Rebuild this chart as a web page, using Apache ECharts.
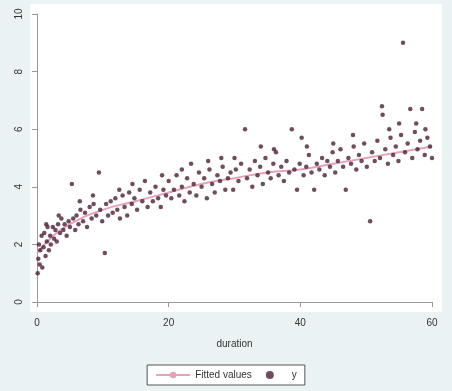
<!DOCTYPE html>
<html><head><meta charset="utf-8">
<script src="https://cdn.jsdelivr.net/npm/echarts@6/dist/echarts.min.js"></script>
<style>html,body{margin:0;padding:0;background:#eaf2f3}#c{width:452px;height:391px}</style>
</head><body><div id="c"></div>
<script>
const xTicks = [0, 20, 40, 60];
const yTicks = [0, 2, 4, 6, 8, 10];
const xTitle = 'duration';
const fitLabel = 'Fitted values';
const scatterLabel = 'y';

const xVals = [0.1,0.2,0.3,0.4,0.5,0.7,0.8,1.0,1.1,1.3,1.5,1.6,1.8,2.0,2.1,2.4,2.6,2.8,3.0,3.2,3.5,3.7,4.0,4.2,4.5,4.8,5.0,5.3,5.5,5.8,6.0,6.3,6.6,7.0,7.3,7.6,8.0,8.3,8.6,9.0,9.4,9.6,9.9,10.3,10.5,10.8,11.2,11.5,11.9,12.2,12.6,13.0,13.3,13.7,14.0,14.4,14.8,15.2,15.6,16.0,16.4,16.8,17.2,17.6,18.0,18.4,18.8,19.2,19.6,20.0,20.4,20.8,21.2,21.6,22.0,22.4,22.8,23.2,23.4,23.8,24.2,24.6,25.0,25.4,25.8,26.2,26.6,27.0,27.4,27.8,28.2,28.6,29.0,29.4,29.8,30.2,30.6,31.0,31.6,31.9,32.3,32.7,33.1,33.5,33.9,34.3,34.7,35.1,35.5,35.9,36.3,36.7,37.1,37.5,37.9,38.3,38.7,39.1,39.5,39.9,40.2,40.5,40.9,41.3,41.7,42.1,42.5,42.9,43.3,43.7,44.1,44.5,44.9,45.3,45.7,46.1,46.5,46.9,47.3,47.7,48.1,48.5,48.9,49.3,49.7,50.1,50.6,50.9,51.3,51.7,52.1,52.4,52.5,52.9,53.3,53.7,54.1,54.5,54.9,55.3,55.6,55.9,56.3,56.7,57.0,57.4,57.8,58.2,58.5,58.9,59.3,59.7,60.0,60.2,53.5,55.0,57.6,59.0,48.0,45.0,41.0,36.0,34.0,30.0,28.0,26.0,22.0,19.0,14.5,12.5,8.5,6.5,3.3,1.4];
const yVals = [1.0,1.5,2.0,1.3,1.8,2.3,1.2,1.9,2.4,1.6,2.1,2.6,1.8,2.3,2.0,2.6,2.2,2.5,2.1,2.7,2.4,2.9,2.5,2.7,2.3,2.8,2.6,4.1,2.9,2.5,3.0,2.7,3.2,2.8,3.1,2.6,3.3,2.9,3.4,3.0,4.5,3.2,2.8,1.7,3.4,3.0,3.5,3.1,3.6,3.2,2.9,3.7,3.3,3.0,3.8,3.4,3.6,3.2,3.9,3.5,4.2,3.3,3.8,3.5,4.0,3.6,3.3,3.9,3.7,4.2,3.6,3.9,4.4,3.7,4.0,3.5,4.3,3.8,4.8,4.1,3.7,4.5,4.0,4.3,3.6,4.6,4.1,3.8,4.4,4.2,4.7,3.9,4.3,4.5,3.9,4.6,4.2,4.8,6.0,4.3,4.6,4.0,4.9,4.4,4.7,4.1,5.0,4.5,4.3,4.8,5.2,4.4,4.7,4.2,4.9,4.5,6.0,4.6,3.9,4.8,5.7,4.4,4.7,5.1,4.5,3.9,4.8,4.6,5.0,4.4,4.9,4.7,5.2,4.5,4.9,5.3,4.7,3.9,5.0,4.8,5.4,4.6,5.1,4.9,5.5,4.7,2.8,5.2,4.9,5.6,5.0,6.8,6.5,5.3,4.8,5.7,5.1,5.4,4.9,5.8,9.0,5.2,5.5,6.7,5.0,5.9,5.3,5.6,6.7,5.1,5.7,5.4,5.0,5.8,6.0,6.2,6.2,6.0,5.8,5.5,5.4,5.3,5.4,5.0,5.0,4.9,4.6,4.4,4.1,3.9,3.7,3.5,3.0,2.7];

const fitX = [0, 2, 5, 10, 15, 20, 25, 30, 35, 40, 45, 50, 55, 60];
const fitY = [1.7, 2.2, 2.7, 3.2, 3.5, 3.8, 4.1, 4.3, 4.5, 4.6, 4.8, 5.0, 5.2, 5.4];

const FONT = 'Liberation Sans';
const chart = echarts.init(document.getElementById('c'), null, {renderer: 'canvas'});
chart.setOption({
  backgroundColor: '#eaf2f3',
  animation: false,
  textStyle: {fontFamily: FONT},
  graphic: [{type: 'rect', z: -10, silent: true, shape: {x: 30, y: 4, width: 412, height: 308}, style: {fill: '#ffffff'}}],
  grid: {left: 37, right: 20, top: 14, bottom: 89},
  xAxis: {
    type: 'value', min: xTicks[0], max: xTicks[xTicks.length - 1], interval: 20,
    offset: 10,
    name: xTitle, nameLocation: 'middle', nameGap: 27,
    nameTextStyle: {color: '#333', fontSize: 10, fontFamily: FONT},
    axisLine: {show: true, lineStyle: {color: '#999'}},
    axisTick: {show: true, length: 5, lineStyle: {color: '#999'}},
    axisLabel: {color: '#333', fontSize: 10, margin: 6},
    splitLine: {show: false}
  },
  yAxis: {
    type: 'value', min: yTicks[0], max: yTicks[yTicks.length - 1], interval: 2,
    offset: 7,
    axisLine: {show: true, lineStyle: {color: '#999'}},
    axisTick: {show: true, length: 5, lineStyle: {color: '#999'}},
    axisLabel: {color: '#333', fontSize: 10, rotate: 90, margin: 6},
    splitLine: {show: false}
  },
  legend: {
    bottom: 6, left: 'center',
    backgroundColor: '#ffffff', borderColor: '#555', borderWidth: 1,
    padding: [5, 8], itemGap: 14, itemWidth: 34, itemHeight: 8,
    textStyle: {fontSize: 10, color: '#333', fontFamily: FONT},
    data: [fitLabel, scatterLabel]
  },
  series: [
    {
      name: fitLabel, type: 'line', symbol: 'none', smooth: true, z: 1,
      data: fitX.map((x, i) => [x, fitY[i]]),
      lineStyle: {color: '#e3a3b8', width: 2},
      itemStyle: {color: '#e3a3b8'}
    },
    {
      name: scatterLabel, type: 'scatter', symbol: 'circle', symbolSize: 4.5, z: 2,
      data: xVals.map((x, i) => [x, yVals[i]]),
      itemStyle: {color: '#4a2035'}
    }
  ]
});
</script></body></html>
